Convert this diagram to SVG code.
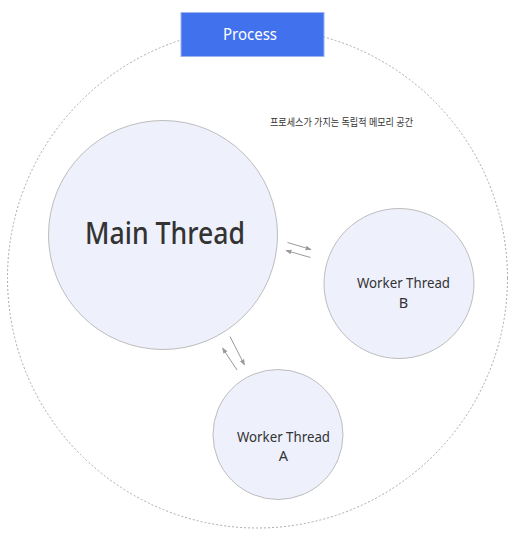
<svg xmlns="http://www.w3.org/2000/svg" width="520" height="542" viewBox="0 0 520 542">
<defs>
<style>
.thread{fill:#eef0fc;stroke:#bdbdbd;stroke-width:1}
.lbl{font-family:"Noto Sans","Open Sans","Liberation Sans",sans-serif;fill:#333;text-anchor:middle}
.conn{stroke:#9a9a9a;stroke-width:1;fill:none;marker-end:url(#ah)}
</style>
<marker id="ah" viewBox="0 0 10 10" refX="9" refY="5" markerWidth="6" markerHeight="6" orient="auto" markerUnits="userSpaceOnUse">
<path d="M0,1 L10,5 L0,9 Z" fill="#9a9a9a"/>
</marker>
</defs>
<rect width="520" height="542" fill="#fff"/>
<g id="process-space">
<circle cx="257.5" cy="278" r="250" fill="none" stroke="#aaa" stroke-width="1" stroke-dasharray="2 2"/>
<text x="341.5" y="126" textLength="143" lengthAdjust="spacingAndGlyphs" style="font-family:'Noto Sans','Noto Sans CJK KR',sans-serif;font-size:10px;fill:#333;text-anchor:middle">프로세스가 가지는 독립적 메모리 공간</text>
</g>
<g id="process">
<rect x="181" y="12.5" width="143" height="44" fill="#4271ee" stroke="#9fb3f0" stroke-width="1"/>
<text x="250" y="40" textLength="54" lengthAdjust="spacingAndGlyphs" style="font-family:'Noto Sans','Open Sans',sans-serif;font-size:16px;fill:#fff;text-anchor:middle">Process</text>
</g>
<g id="main-thread">
<circle class="thread" cx="163" cy="235" r="114.5"/>
<text class="lbl" x="165" y="244" font-size="30" textLength="160" lengthAdjust="spacingAndGlyphs" font-weight="500">Main Thread</text>
</g>
<g id="worker-b">
<circle class="thread" cx="399" cy="283.5" r="75"/>
<text class="lbl" x="403.5" y="288" font-size="14.5" textLength="93" lengthAdjust="spacingAndGlyphs">Worker Thread</text>
<text class="lbl" x="403.5" y="307.5" font-size="14.5">B</text>
</g>
<g id="worker-a">
<circle class="thread" cx="278" cy="434.5" r="65"/>
<text class="lbl" x="283.5" y="442" font-size="14.5" textLength="93" lengthAdjust="spacingAndGlyphs">Worker Thread</text>
<text class="lbl" x="283.5" y="461" font-size="14.5">A</text>
</g>
<g id="connectors">
<line class="conn" x1="287.5" y1="242.5" x2="311" y2="249.5"/>
<line class="conn" x1="310.5" y1="257.5" x2="286" y2="250.5"/>
<line class="conn" x1="230" y1="336.5" x2="244.5" y2="365"/>
<line class="conn" x1="237" y1="370" x2="222.5" y2="348"/>
</g>
</svg>
